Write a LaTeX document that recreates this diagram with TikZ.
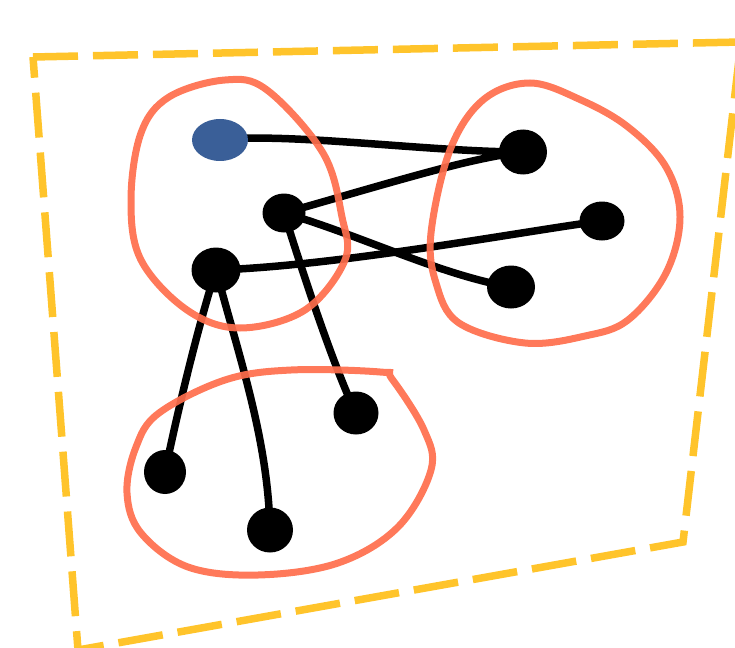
\documentclass[tikz,border=0pt]{standalone}
\usetikzlibrary{shapes.geometric,backgrounds}
\definecolor{frameyellow}{HTML}{FFC42B}
\definecolor{groupred}{HTML}{FF6E4C}
\definecolor{rootblue}{HTML}{3A5F98}
\tikzset{
  dot/.style={ellipse, fill=black, inner sep=0pt},
  rootdot/.style={ellipse, fill=rootblue, inner sep=0pt},
  link/.style={draw=black, line width=7.5pt, line cap=round},
  group/.style={draw=groupred, line width=7pt, opacity=0.92},
  frame/.style={draw=frameyellow, line width=7.5pt, dash pattern=on 45pt off 15pt},
}
\begin{document}
\begin{tikzpicture}[x=1pt, y=-1pt]
  \useasboundingbox (0,0) rectangle (735,647);
  \clip (0,0) rectangle (735,647);

  % outer dashed region
  \draw[frame] (33,57) -- (741,42) -- (683,542) -- (78,650) -- cycle;

  % vertices
  \node[rootdot, minimum width=56pt, minimum height=42pt] (root) at (220,140) {};
  \node[dot, minimum width=48pt, minimum height=45pt] (a) at (523,152) {};
  \node[dot, minimum width=43pt, minimum height=39pt] (b) at (284,213) {};
  \node[dot, minimum width=45pt, minimum height=39pt] (c) at (602,221) {};
  \node[dot, minimum width=48pt, minimum height=43pt] (d) at (511,287) {};
  \node[dot, minimum width=49pt, minimum height=45pt] (e) at (216,270) {};
  \node[dot, minimum width=45pt, minimum height=43pt] (f) at (356,413) {};
  \node[dot, minimum width=42pt, minimum height=44pt] (g) at (165,472) {};
  \node[dot, minimum width=46pt, minimum height=45pt] (h) at (270,530) {};

  % edges, kept under the vertices
  \begin{scope}[on background layer]
    \draw[link] (root.center) .. controls (285,132) and (430,152) .. (a.center);
    \draw[link] (b.center) .. controls (400,180) and (470,158) .. (a.center);
    \draw[link] (b.center) .. controls (360,235) and (440,275) .. (d.center);
    \draw[link] (e.center) .. controls (340,266) and (530,230) .. (c.center);
    \draw[link] (b.center) .. controls (305,280) and (335,370) .. (f.center);
    \draw[link] (e.center) .. controls (200,320) and (180,400) .. (g.center);
    \draw[link] (e.center) .. controls (240,360) and (268,440) .. (h.center);
  \end{scope}

  % groups
  \draw[group] plot[smooth cycle, tension=0.6] coordinates {
    (225,80) (267,90) (323,153) (342,217) (345,260) (305,310) (240,328)
    (187,310) (141,260) (131,200) (141,133) (169,97)};
  \draw[group] plot[smooth cycle, tension=0.6] coordinates {
    (530,83) (581,100) (628,127) (666,167) (680,217) (666,273) (628,320)
    (585,336) (525,343) (459,323) (436,283) (431,233) (450,150) (483,100)};
  \draw[group] plot[smooth cycle, tension=0.6] coordinates {
    (380,372) (291,370) (225,380) (159,413) (136,447) (127,493) (141,533)
    (188,567) (258,575) (338,563) (398,527) (431,470) (424,430) (392,379)};
\end{tikzpicture}
\end{document}
